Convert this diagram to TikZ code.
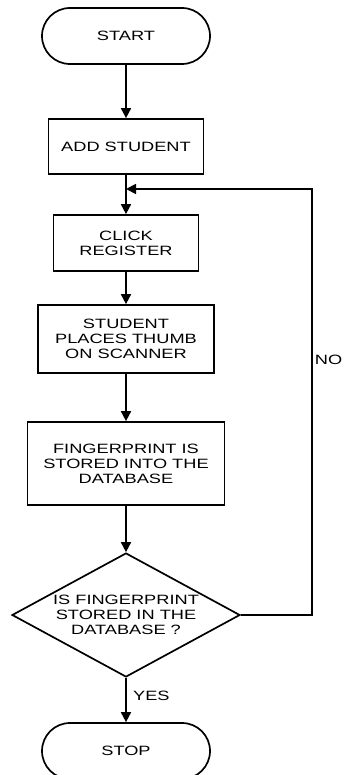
\documentclass[tikz,border=0pt]{standalone}
\usepackage{fontspec}
\setmainfont{Liberation Sans}[FakeStretch=1.35]
\usetikzlibrary{arrows.meta, shapes.misc, shapes.geometric}
\tikzset{
  flowbox/.style={draw, line width=1.7pt, align=center, inner sep=0pt},
  terminal/.style={flowbox, rounded rectangle, minimum width=168pt, minimum height=56pt},
  decision/.style={flowbox, diamond, aspect=1.84, minimum width=228pt, minimum height=124pt},
  flow/.style={line width=1.7pt, -{Triangle[length=10pt,width=10pt]}}
}

\begin{document}
\begin{tikzpicture}[x=1pt, y=-1pt, font=\fontsize{13.5}{15}\selectfont]
\useasboundingbox (0,0) rectangle (343,775);
\node[terminal] (start) at (126,36) {START};
\node[flowbox, minimum width=155pt, minimum height=55pt] (add) at (126,146.5) {ADD STUDENT};
\node[flowbox, minimum width=145pt, minimum height=56pt] (click) at (126,243) {CLICK\\REGISTER};
\node[flowbox, minimum width=176pt, minimum height=68pt] (thumb) at (126,339) {STUDENT\\PLACES THUMB\\ON SCANNER};
\node[flowbox, minimum width=197pt, minimum height=83pt] (stored) at (126,463.5) {FINGERPRINT IS\\STORED INTO THE\\DATABASE};
\node[decision] (check) at (126,615) {IS FINGERPRINT\\STORED IN THE\\DATABASE ?};
\node[terminal] (stop) at (126,751) {STOP};
\coordinate (loop) at (312,189);

\draw[flow] (start) -- (add);
\draw[flow] (add) -- (click);
\draw[flow] (click) -- (thumb);
\draw[flow] (thumb) -- (stored);
\draw[flow] (stored) -- (check);
\draw[flow] (check) -- node[right, pos=0.4, xshift=3pt] {YES} (stop);
\draw[flow] (check.east) -| node[right, pos=0.8, inner sep=2pt] {NO} (loop) -- (add.south |- loop);
\end{tikzpicture}
\end{document}
